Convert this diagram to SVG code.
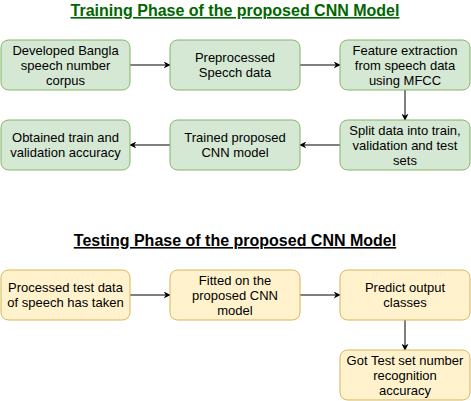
<svg xmlns="http://www.w3.org/2000/svg" width="471" height="401" viewBox="0 0 471 401">
<style>
.g{fill:#d5e8d4;stroke:#82b366;stroke-width:1}
.y{fill:#fff2cc;stroke:#d6b656;stroke-width:1}
.t{font-family:"Liberation Sans",Arial,sans-serif;font-size:13px;fill:#000;text-anchor:middle}
.h{font-family:"Liberation Sans",Arial,sans-serif;font-size:16px;font-weight:bold;text-anchor:middle;text-decoration:underline}
.c{stroke:#000;stroke-width:1;fill:none;marker-end:url(#a)}
</style>
<defs>
<marker id="a" viewBox="0 0 10 10" refX="9" refY="5" markerWidth="7" markerHeight="7" markerUnits="userSpaceOnUse" orient="auto">
<path d="M0,0 L10,5 L0,10 L3,5 Z" fill="#000"/>
</marker>
</defs>
<rect width="471" height="401" fill="#fff"/>
<text class="h" x="235" y="16" fill="#006600">Training Phase of the proposed CNN Model</text>
<text class="h" x="235" y="246" fill="#000">Testing Phase of the proposed CNN Model</text>
<g id="connectors">
<path class="c" d="M130,65 L170,65"/>
<path class="c" d="M300,65 L340,65"/>
<path class="c" d="M405,90 L405,120"/>
<path class="c" d="M340,145 L300,145"/>
<path class="c" d="M170,145 L130,145"/>
<path class="c" d="M130,295 L170,295"/>
<path class="c" d="M300,295 L340,295"/>
<path class="c" d="M405,320 L405,350"/>
</g>
<g id="n1"><rect class="g" x="1" y="40" width="129" height="50" rx="7.5"/>
<text class="t" x="65.5" y="54.5">Developed Bangla</text><text class="t" x="65.5" y="69.5">speech number</text><text class="t" x="65.5" y="84.5">corpus</text></g>
<g id="n2"><rect class="g" x="170" y="40" width="130" height="50" rx="7.5"/>
<text class="t" x="235" y="62">Preprocessed</text><text class="t" x="235" y="77">Specch data</text></g>
<g id="n3"><rect class="g" x="340" y="40" width="130" height="50" rx="7.5"/>
<text class="t" x="405" y="54.5">Feature extraction</text><text class="t" x="405" y="69.5">from speech data</text><text class="t" x="405" y="84.5">using MFCC</text></g>
<g id="n4"><rect class="g" x="340" y="120" width="130" height="50" rx="7.5"/>
<text class="t" x="405" y="134.5">Split data into train,</text><text class="t" x="405" y="149.5">validation and test</text><text class="t" x="405" y="164.5">sets</text></g>
<g id="n5"><rect class="g" x="170" y="120" width="130" height="50" rx="7.5"/>
<text class="t" x="235" y="142">Trained proposed</text><text class="t" x="235" y="157">CNN model</text></g>
<g id="n6"><rect class="g" x="1" y="120" width="129" height="50" rx="7.5"/>
<text class="t" x="65.5" y="142">Obtained train and</text><text class="t" x="65.5" y="157">validation accuracy</text></g>
<g id="n7"><rect class="y" x="1" y="270" width="129" height="50" rx="7.5"/>
<text class="t" x="65.5" y="292">Processed test data</text><text class="t" x="65.5" y="307">of speech has taken</text></g>
<g id="n8"><rect class="y" x="170" y="270" width="130" height="50" rx="7.5"/>
<text class="t" x="235" y="284.5">Fitted on the</text><text class="t" x="235" y="299.5">proposed CNN</text><text class="t" x="235" y="314.5">model</text></g>
<g id="n9"><rect class="y" x="340" y="270" width="130" height="50" rx="7.5"/>
<text class="t" x="405" y="292">Predict output</text><text class="t" x="405" y="307">classes</text></g>
<g id="n10"><rect class="y" x="340" y="350" width="130" height="50" rx="7.5"/>
<text class="t" x="405" y="364.5">Got Test set number</text><text class="t" x="405" y="379.5">recognition</text><text class="t" x="405" y="394.5">accuracy</text></g>
</svg>
